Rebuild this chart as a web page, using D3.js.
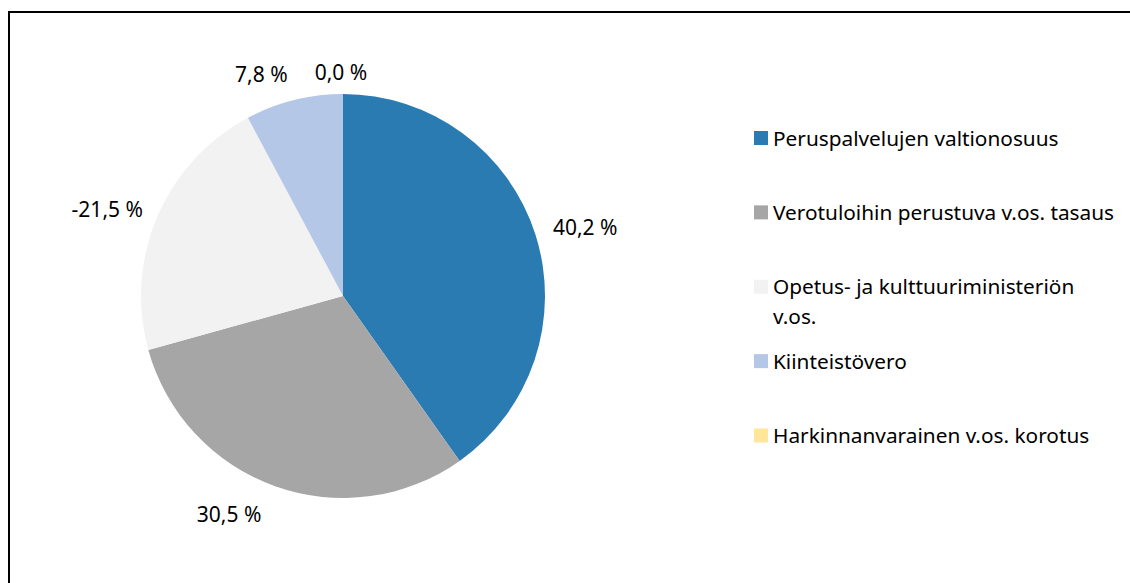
<!DOCTYPE html>
<html><head><meta charset="utf-8">
<script src="https://cdn.jsdelivr.net/npm/d3@7"></script>
<style>body{margin:0;background:#fff}svg{display:block}text{font-family:"Noto Sans",sans-serif;fill:#000}</style>
</head><body>
<svg id="c" width="1130" height="583"></svg>
<script>
const categories = ["Peruspalvelujen valtionosuus","Verotuloihin perustuva v.os. tasaus","Opetus- ja kulttuuriministeriön v.os.","Kiinteistövero","Harkinnanvarainen v.os. korotus"];
const values = [40.2, 30.5, -21.5, 7.8, 0.0];
const colors = ["#2a7bb1","#a6a6a6","#f2f2f2","#b4c7e7","#ffe699"];

const svg = d3.select("#c");
svg.append("rect").attr("x",9).attr("y",12).attr("width",1140).attr("height",600)
  .attr("fill","none").attr("stroke","#000").attr("stroke-width",2);

const cx = 343, cy = 296, R = 202;
const fmt = v => d3.format(".1f")(v).replace(".", ",").replace("\u2212", "-") + " %";
const pie = d3.pie().value(d => Math.abs(d)).sort(null);
const arcs = pie(values);
const arc = d3.arc().innerRadius(0).outerRadius(R);
const g = svg.append("g").attr("transform",`translate(${cx},${cy})`);
g.selectAll("path").data(arcs).enter().append("path")
  .attr("d", arc).attr("fill",(d,i)=>colors[i]);

// label layout nudges (Excel-like outside-end placement)
const nudge = [[4,1],[-30,1],[-6,4],[-21,1],[-2,6]];
const lr = R + 18;
g.selectAll("text.lbl").data(arcs).enter().append("text").attr("class","lbl")
  .each(function(d,i){
    const a = (d.startAngle + d.endAngle)/2;
    const s = Math.sin(a), c = Math.cos(a);
    const x = lr*s + s*30 + nudge[i][0];
    const y = -lr*c - c*10 + nudge[i][1];
    d3.select(this).attr("x",x).attr("y",y).attr("text-anchor","middle")
      .attr("dominant-baseline","central").style("font-size","21px").text(fmt(values[i]));
  });

// legend
const lg = svg.append("g");
const rowY = d3.scalePoint().domain(d3.range(categories.length)).range([137.5,435]);
const maxW = 345;
categories.forEach((name,i)=>{
  const y = rowY(i);
  lg.append("rect").attr("x",754).attr("y",y-6.5).attr("width",14).attr("height",14).attr("fill",colors[i]);
  const t = lg.append("text").attr("x",773).attr("y",y).attr("dominant-baseline","central").style("font-size","20.8px");
  const words = name.split(" ");
  let line = [], ts = t.append("tspan").attr("x",773).attr("dy",0);
  words.forEach(w=>{
    line.push(w); ts.text(line.join(" "));
    if (ts.node().getComputedTextLength() > maxW && line.length>1){
      line.pop(); ts.text(line.join(" "));
      line=[w]; ts = t.append("tspan").attr("x",773).attr("dy",30).text(w);
    }
  });
});
</script>
</body></html>
